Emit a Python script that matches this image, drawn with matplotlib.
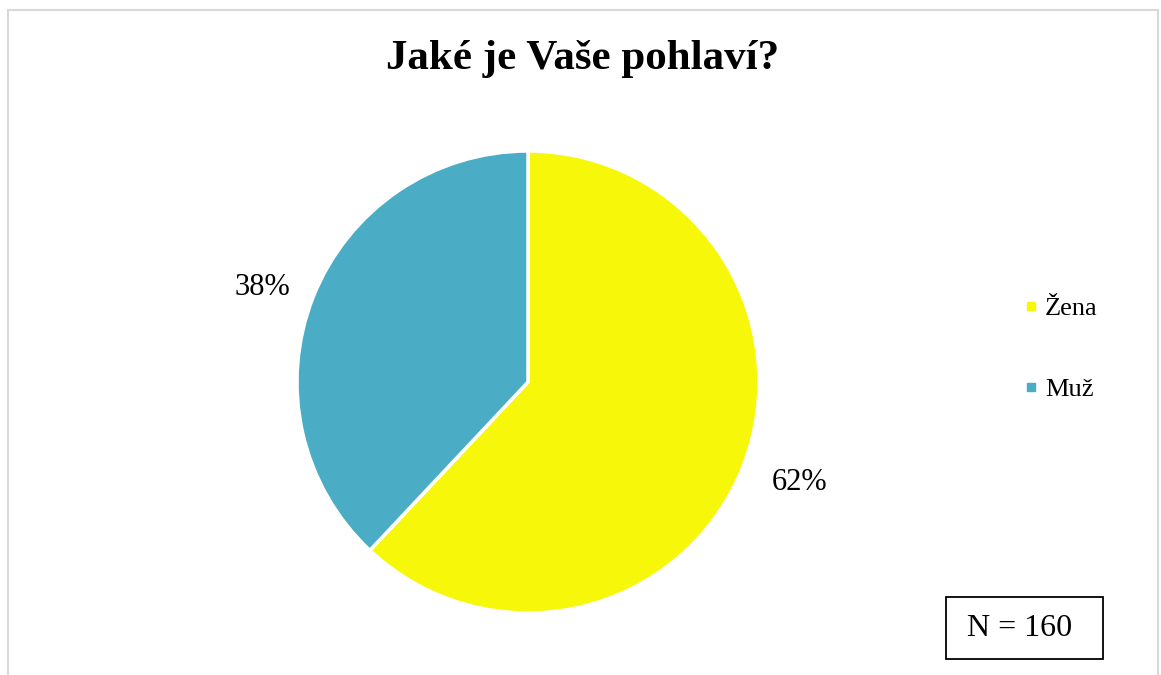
import matplotlib.pyplot as plt
from matplotlib.patches import Rectangle
from matplotlib.lines import Line2D

plt.rcParams['font.family'] = ['Liberation Serif', 'DejaVu Serif']

labels = ['Žena', 'Muž']
values = [62, 38]
colors = ['#F7F709', '#4BACC6']
title = 'Jaké je Vaše pohlaví?'
n_text = 'N = 160'

W, H = 1161, 675
fig = plt.figure(figsize=(W / 100, H / 100), dpi=100)

# outer chart border (bottom edge is off the picture)
fig.patches.append(Rectangle((8 / W, -0.05), (1158 - 8) / W, (H - 10) / H + 0.05,
                             transform=fig.transFigure, fill=False,
                             edgecolor='#D9D9D9', linewidth=1.5))

# pie: centre (528, 382), radius 231 px
r = 231
ax = fig.add_axes([(528 - r) / W, (H - 382 - r) / H, 2 * r / W, 2 * r / H])
wedges, texts, autotexts = ax.pie(values, colors=colors, startangle=90, counterclock=False,
                                  autopct='%1.0f%%', pctdistance=1.235,
                                  wedgeprops=dict(edgecolor='white', linewidth=2.5),
                                  textprops=dict(fontsize=22))
# data labels sit a little off the slice mid-angle, as in the original
autotexts[0].set_position((1.177, -0.433))
autotexts[1].set_position((-1.152, 0.407))
ax.set_xlim(-1, 1)
ax.set_ylim(-1, 1)
ax.set_aspect('equal')

fig.text(583 / W, 1 - 59 / H, title, ha='center', va='center',
         fontsize=31, fontweight='bold')

# legend
handles = [Line2D([], [], marker='s', linestyle='none', markersize=6,
                  markerfacecolor=c, markeredgecolor=c) for c in colors]
leg = fig.legend(handles, labels, loc='center left', bbox_to_anchor=(999 / W, 1 - 349 / H),
                 frameon=False, fontsize=19, handlelength=0.6, handletextpad=0.25,
                 labelspacing=2.2)

# N box
fig.text(1020 / W, 1 - 628 / H, n_text, ha='center', va='center', fontsize=23)
fig.patches.append(Rectangle((946 / W, 1 - 659 / H), (1103 - 946) / W, (659 - 597) / H,
                             transform=fig.transFigure, fill=False,
                             edgecolor='black', linewidth=1.3))

fig.savefig('out.png', dpi=100)
